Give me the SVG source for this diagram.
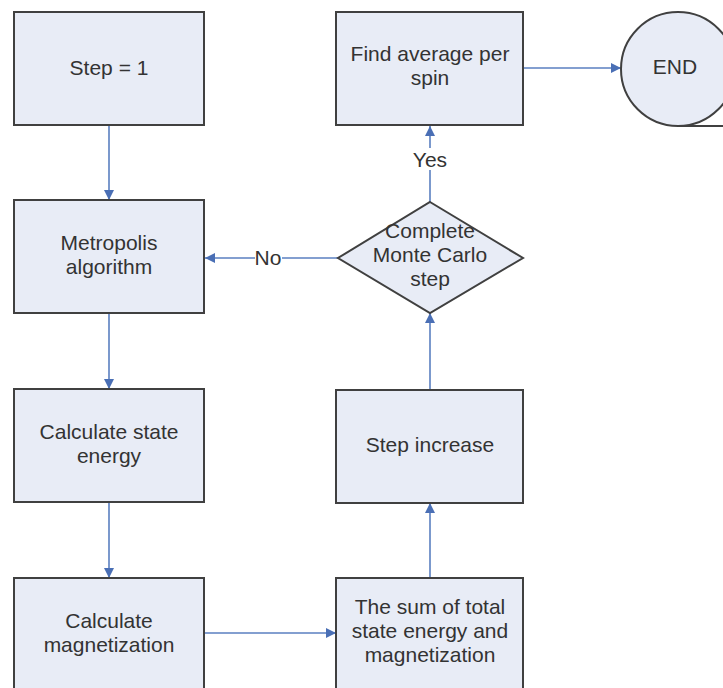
<svg xmlns="http://www.w3.org/2000/svg" width="723" height="688" viewBox="0 0 723 688">
<style>
.box{fill:#e8ecf6;stroke:#404040;stroke-width:2}
.t{font-family:"Liberation Sans",Arial,sans-serif;font-size:21px;fill:#333;text-anchor:middle}
.c{stroke:#5a7fc0;stroke-width:1.6;fill:none}
</style>
<defs>
<marker id="a" viewBox="0 0 10 10" refX="10" refY="5" markerWidth="10" markerHeight="10" markerUnits="userSpaceOnUse" orient="auto">
<path d="M0,0 L10,5 L0,10 z" fill="#4a6fb5"/>
</marker>
</defs>
<rect width="723" height="688" fill="#fff"/>
<g id="connectors">
<line class="c" x1="109" y1="125" x2="109" y2="200" marker-end="url(#a)"/>
<line class="c" x1="109" y1="313" x2="109" y2="389" marker-end="url(#a)"/>
<line class="c" x1="109" y1="502" x2="109" y2="578" marker-end="url(#a)"/>
<line class="c" x1="204" y1="633" x2="336" y2="633" marker-end="url(#a)"/>
<line class="c" x1="430" y1="578" x2="430" y2="503" marker-end="url(#a)"/>
<line class="c" x1="430" y1="390" x2="430" y2="313" marker-end="url(#a)"/>
<line class="c" x1="430" y1="202" x2="430" y2="126" marker-end="url(#a)"/>
<line class="c" x1="338" y1="258" x2="205" y2="258" marker-end="url(#a)"/>
<line class="c" x1="524" y1="68" x2="621" y2="68" marker-end="url(#a)"/>
<rect x="255" y="247" width="27" height="20" fill="#fff"/>
<text class="t" x="268" y="265">No</text>
<rect x="412" y="148" width="36" height="22" fill="#fff"/>
<text class="t" x="430" y="167">Yes</text>
</g>
<g id="step1">
<rect class="box" x="14" y="12" width="190" height="113"/>
<text class="t" x="109" y="75">Step = 1</text>
</g>
<g id="metropolis">
<rect class="box" x="14" y="200" width="190" height="113"/>
<text class="t" x="109" y="250">Metropolis</text>
<text class="t" x="109" y="274">algorithm</text>
</g>
<g id="energy">
<rect class="box" x="14" y="389" width="190" height="113"/>
<text class="t" x="109" y="439">Calculate state</text>
<text class="t" x="109" y="463">energy</text>
</g>
<g id="magnetization">
<rect class="box" x="14" y="578" width="190" height="113"/>
<text class="t" x="109" y="628">Calculate</text>
<text class="t" x="109" y="652">magnetization</text>
</g>
<g id="sum">
<rect class="box" x="336" y="578" width="187" height="113"/>
<text class="t" x="430" y="614">The sum of total</text>
<text class="t" x="430" y="638">state energy and</text>
<text class="t" x="430" y="662">magnetization</text>
</g>
<g id="stepincrease">
<rect class="box" x="336" y="390" width="187" height="113"/>
<text class="t" x="430" y="452">Step increase</text>
</g>
<g id="decision">
<polygon class="box" points="430,202 523,258 430,313 338,258"/>
<text class="t" x="430" y="238">Complete</text>
<text class="t" x="430" y="262">Monte Carlo</text>
<text class="t" x="430" y="286">step</text>
</g>
<g id="findavg">
<rect class="box" x="336" y="12" width="187" height="113"/>
<text class="t" x="430" y="61">Find average per</text>
<text class="t" x="430" y="85">spin</text>
</g>
<g id="end">
<circle class="box" cx="678" cy="69" r="57"/>
<line x1="678" y1="126" x2="723" y2="126" stroke="#404040" stroke-width="2"/>
<text class="t" x="675" y="74">END</text>
</g>
</svg>
